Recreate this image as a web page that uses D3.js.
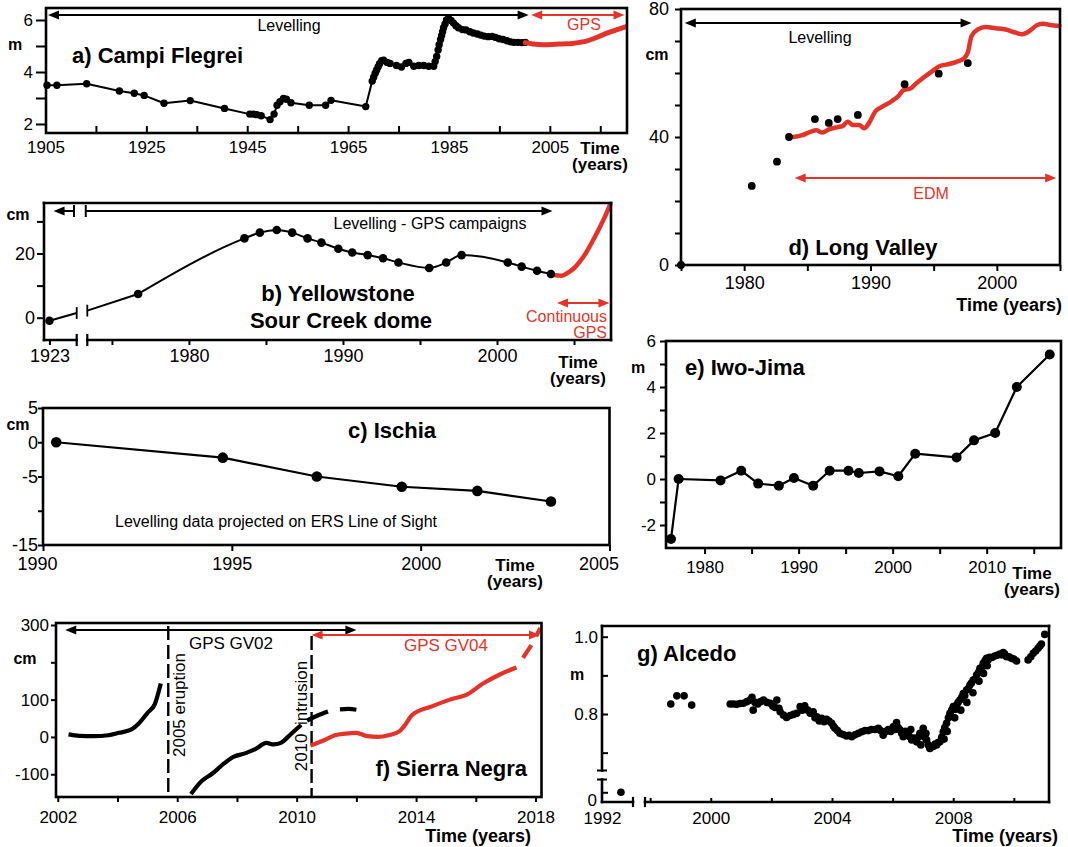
<!DOCTYPE html>
<html>
<head>
<meta charset="utf-8">
<title>Caldera ground deformation</title>
<script src="https://cdn.jsdelivr.net/npm/d3@7/dist/d3.min.js"></script>
<style>
  html, body { margin: 0; padding: 0; background: #ffffff; }
  svg { display: block; }
</style>
</head>
<body>
<svg id="fig" width="1068" height="847"></svg>
<script>
// ---------------- a) Campi Flegrei (year, m) ----------------
const campiLevelling = [
  [1905.30,3.49],[1907.26,3.49],[1913.16,3.55],[1919.65,3.27],[1922.60,3.18],[1924.56,3.10],
  [1928.49,2.80],[1933.70,2.90],[1940.49,2.60],[1945.50,2.38],[1946.19,2.38],[1946.88,2.36],
  [1947.76,2.32],[1949.53,2.17],[1950.32,2.38],[1950.91,2.72],[1951.49,2.86],[1952.18,2.98],
  [1952.77,2.95],[1953.66,2.82],[1957.30,2.72],[1960.54,2.72],[1961.62,2.91],[1968.50,2.67],
  [1969.78,3.65],[1970.07,3.80],[1970.37,3.95],[1970.66,4.08],[1970.96,4.20],[1971.25,4.32],
  [1971.65,4.43],[1972.04,4.45],[1972.73,4.37],[1973.32,4.33],[1974.59,4.25],[1975.58,4.19],
  [1976.46,4.33],[1977.05,4.37],[1978.03,4.22],[1979.02,4.25],[1980.00,4.25],[1980.98,4.22],
  [1981.97,4.22],[1982.26,4.40],[1982.56,4.60],[1982.85,4.85],[1983.05,5.05],[1983.34,5.25],
  [1983.54,5.40],[1983.74,5.55],[1983.93,5.70],[1984.23,5.85],[1984.52,6.00],[1984.92,6.06],
  [1985.41,5.98],[1985.90,5.88],[1986.39,5.78],[1986.88,5.70],[1987.67,5.63],[1988.36,5.62],
  [1989.14,5.55],[1989.83,5.50],[1990.62,5.46],[1991.31,5.42],[1991.99,5.38],[1992.78,5.36],
  [1993.57,5.37],[1994.25,5.33],[1994.94,5.28],[1995.73,5.25],[1996.51,5.20],[1997.20,5.16],
  [1997.89,5.14],[1998.68,5.14],[1999.46,5.13],[2000.15,5.14]
];
const campiGps = [
  [2000.15,5.13],[2001.63,5.08],[2003.59,5.05],[2005.56,5.06],[2007.52,5.08],[2009.49,5.10],
  [2010.96,5.14],[2012.44,5.20],[2013.91,5.30],[2015.39,5.42],[2016.86,5.53],[2018.34,5.63],[2020.0,5.74]
];
const campiXTicks = [1905,1915,1925,1935,1945,1955,1965,1975,1985,1995,2005,2015];
const campiXLabels = [1905,1925,1945,1965,1985,2005];
const campiYTicks = [2,3,4,5,6];
const campiYLabels = [2,4,6];
const campiSpans = { levelling: [1905.5, 2000.8], gps: [2001.3, 2019.8] };

// ---------------- b) Yellowstone, Sour Creek dome (year, cm) ----------------
const yellowEarly = [[1923, -0.94]];
const yellowBreakEnds = [[1925.0, 1.47], [1973.4, 2.19]];
const yellowCampaigns = [
  [1976.7,7.4],[1983.6,24.7],[1984.6,26.5],[1985.7,27.3],[1986.7,26.5],[1987.7,24.7],
  [1988.6,23.4],[1989.7,21.5],[1990.6,20.3],[1991.6,19.5],[1992.6,18.5],[1993.6,17.2],
  [1995.6,15.5],[1996.7,17.2],[1997.7,19.5],[2000.7,17.2],[2001.6,15.9],[2002.6,14.6],[2003.5,13.6]
];
const yellowGps = [
  [2003.5,13.6],[2003.8,13.2],[2004.2,13.1],[2004.6,14.0],[2005.0,15.4],[2005.4,17.6],
  [2005.8,20.4],[2006.2,23.8],[2006.6,27.5],[2007.0,31.4],[2007.35,35.3]
];
const yellowXTicks = [1975,1980,1985,1990,1995,2000,2005];
const yellowXLabels = [1980,1990,2000];
const yellowYTicks = [0,10,20,30];
const yellowYLabels = [0,20];
const yellowSpans = { early: [1923.3, 1924.8], campaigns: [1973.3, 2003.6], gps: [2003.9, 2007.3] };

// ---------------- c) Ischia (year, cm) ----------------
const ischiaLevelling = [
  [1990.35,0],[1994.76,-2.25],[1997.25,-5.0],[1999.5,-6.5],[2001.5,-7.1],[2003.45,-8.65]
];
const ischiaXTicks = [1990,1995,2000,2005];
const ischiaXLabels = [1990,1995,2000,2005];
const ischiaYTicks = [-15,-10,-5,0,5];
const ischiaYLabels = [-15,-5,0,5];

// ---------------- d) Long Valley (year, cm) ----------------
const longValleyLevelling = [
  [1975,0],[1980.6,24.7],[1982.6,32.3],[1983.55,40.0],[1985.6,45.6],[1986.7,44.4],
  [1987.4,45.6],[1989.0,46.9],[1992.7,56.5],[1995.4,59.8],[1997.7,63.1]
];
const longValleyEdm = [
  [1983.9,40.0],[1984.6,40.6],[1985.3,41.7],[1985.7,42.1],[1986.2,41.4],[1986.7,42.4],
  [1987.4,43.1],[1987.8,43.4],[1988.2,44.8],[1988.6,43.75],[1989.1,43.75],[1989.5,42.7],
  [1989.9,44.5],[1990.4,48.1],[1990.9,49.4],[1991.7,51.25],[1992.2,52.8],[1992.6,54.6],
  [1993.2,55.2],[1993.55,56.5],[1994.1,58.3],[1994.9,60.6],[1995.5,62.2],[1996.1,62.7],
  [1996.8,63.5],[1997.4,64.6],[1997.7,66.4],[1998.0,71.6],[1998.5,73.6],[1999.1,74.4],
  [1999.9,74.0],[2000.7,73.6],[2001.5,72.6],[2002.0,72.1],[2002.5,72.9],[2003.2,75.0],
  [2003.7,75.4],[2004.2,75.0],[2004.95,74.7]
];
const longValleyXTicks = [1975,1980,1985,1990,1995,2000,2005];
const longValleyXLabels = [1980,1990,2000];
const longValleyYTicks = [0,10,20,30,40,50,60,70,80];
const longValleyYLabels = [0,40,80];
const longValleySpans = { levelling: [1975.3, 1998.0], edm: [1984.0, 2004.7] };

// ---------------- e) Iwo-Jima (year, m) ----------------
const iwoJima = [
  [1976.43,-2.61],[1977.24,0],[1981.7,-0.06],[1983.9,0.36],[1985.7,-0.2],[1987.9,-0.29],
  [1989.5,0.04],[1991.55,-0.29],[1993.3,0.36],[1995.3,0.36],[1996.4,0.26],[1998.6,0.33],
  [2000.6,0.12],[2002.4,1.1],[2006.8,0.94],[2008.65,1.68],[2010.9,2.0],[2013.2,4.0],[2016.7,5.41]
];
const iwoXTicks = [1980,1985,1990,1995,2000,2005,2010,2015];
const iwoXLabels = [1980,1990,2000,2010];
const iwoYTicks = [-2,-1,0,1,2,3,4,5,6];
const iwoYLabels = [-2,0,2,4,6];

// ---------------- f) Sierra Negra (year, cm) ----------------
const sierraGV02Pre = [
  [2002.36,7],[2002.72,3],[2003.2,2],[2003.69,4.5],[2004.05,11],[2004.47,20],
  [2004.71,36],[2005.0,64],[2005.25,88],[2005.45,143]
];
const sierraGV02Post = [
  [2006.46,-153],[2006.82,-118],[2007.18,-98],[2007.54,-73],[2007.9,-53],[2008.27,-44],
  [2008.63,-32],[2008.99,-16],[2009.23,-20],[2009.47,-16],[2009.71,0],[2009.95,18],[2010.15,32]
];
const sierraGV02Late = [[2010.35,44],[2010.67,56],[2011.05,68]];
const sierraGV02End = [[2011.45,74],[2011.75,75],[2012.0,73]];
const sierraGV04 = [
  [2010.46,-23],[2010.92,-9],[2011.28,4.5],[2011.64,9],[2012.0,11],[2012.36,2],
  [2012.72,0],[2013.08,4.5],[2013.45,15.5],[2013.63,32],[2013.87,59],[2014.53,82],
  [2015.13,100],[2015.73,115],[2016.2,141],[2016.82,168],[2017.36,186]
];
const sierraGV04End = [[2017.58,212],[2017.86,246]];
const sierraGV04Tip = [[2018.02,270],[2018.16,292]];
const sierraEvents = [2005.7, 2010.5];
const sierraXTicks = [2002,2004,2006,2008,2010,2012,2014,2016,2018];
const sierraXLabels = [2002,2006,2010,2014,2018];
const sierraYTicks = [-100,0,100,200,300];
const sierraYLabels = [-100,0,100,300];
const sierraSpans = { gv02: [2002.25, 2012.0], gv04: [2010.5, 2018.15] };

// ---------------- g) Alcedo (year, m) ----------------
const alcedoEarly = [[1993.04, 0.02]];
const alcedoGps = [
  [1998.68,0.826],[1998.88,0.847],[1999.12,0.847],[1999.37,0.823],
  [2000.64,0.826],[2000.75,0.826],[2000.86,0.825],[2000.97,0.827],[2001.08,0.828],[2001.19,0.832],
  [2001.3,0.836],[2001.36,0.843],[2001.4,0.81],[2001.46,0.83],[2001.55,0.826],[2001.64,0.832],
  [2001.74,0.836],[2001.85,0.83],[2001.96,0.828],[2002.05,0.82],[2002.12,0.817],[2002.18,0.836],
  [2002.25,0.815],[2002.29,0.806],[2002.4,0.797],[2002.5,0.791],[2002.62,0.796],[2002.73,0.799],
  [2002.84,0.802],[2002.95,0.819],[2003.02,0.81],[2003.1,0.821],[2003.2,0.81],[2003.28,0.802],
  [2003.38,0.806],[2003.44,0.79],[2003.5,0.793],[2003.58,0.782],[2003.66,0.789],[2003.74,0.78],
  [2003.82,0.786],[2003.9,0.782],[2003.99,0.776],[2004.05,0.768],[2004.1,0.763],[2004.18,0.757],
  [2004.26,0.75],[2004.37,0.747],[2004.48,0.743],[2004.56,0.745],[2004.65,0.741],[2004.76,0.746],
  [2004.87,0.75],[2004.98,0.754],[2005.09,0.757],[2005.2,0.757],[2005.3,0.76],[2005.42,0.76],
  [2005.53,0.763],[2005.6,0.757],[2005.69,0.745],[2005.78,0.755],[2005.86,0.76],[2005.94,0.755],
  [2006.02,0.767],[2006.08,0.76],[2006.13,0.778],[2006.18,0.765],[2006.24,0.759],[2006.3,0.75],
  [2006.35,0.741],[2006.42,0.755],[2006.46,0.75],[2006.55,0.742],[2006.6,0.76],[2006.63,0.733],
  [2006.7,0.738],[2006.79,0.728],[2006.85,0.74],[2006.9,0.75],[2006.93,0.72],[2006.96,0.745],
  [2007.01,0.763],[2007.06,0.74],[2007.1,0.75],[2007.12,0.733],[2007.18,0.72],[2007.23,0.711],
  [2007.28,0.715],[2007.34,0.716],[2007.4,0.722],[2007.45,0.72],[2007.5,0.726],[2007.56,0.728],
  [2007.62,0.74],[2007.67,0.754],[2007.7,0.735],[2007.72,0.765],[2007.78,0.776],[2007.8,0.755],
  [2007.84,0.79],[2007.89,0.802],[2007.95,0.81],[2008.0,0.819],[2008.05,0.79],[2008.08,0.812],
  [2008.11,0.823],[2008.16,0.83],[2008.22,0.836],[2008.25,0.81],[2008.28,0.843],[2008.33,0.853],
  [2008.38,0.848],[2008.44,0.862],[2008.45,0.83],[2008.5,0.866],[2008.55,0.875],[2008.6,0.88],
  [2008.65,0.855],[2008.66,0.888],[2008.72,0.89],[2008.77,0.901],[2008.83,0.907],[2008.85,0.885],
  [2008.88,0.918],[2008.94,0.92],[2008.99,0.931],[2009.0,0.905],[2009.05,0.938],[2009.1,0.944],
  [2009.12,0.925],[2009.15,0.94],[2009.2,0.947],[2009.28,0.946],[2009.37,0.95],[2009.45,0.952],
  [2009.54,0.955],[2009.6,0.953],[2009.65,0.959],[2009.7,0.955],[2009.76,0.948],[2009.84,0.948],
  [2009.92,0.944],[2010.0,0.942],[2010.09,0.937],
  [2010.47,0.94],[2010.56,0.948],[2010.64,0.957],[2010.72,0.963],[2010.8,0.97],[2010.86,0.976],
  [2010.91,0.981],[2011.02,1.006]
];
const alcedoXTicks = [1998,2000,2002,2004,2006,2008,2010];
const alcedoXLabels = [2000,2004,2008];
const alcedoYTicks = [0.7,0.8,0.9,1.0];
const alcedoYLabels = [0.8,1.0];

// ---------------- drawing ----------------
const svg = d3.select('#fig');
const RED = '#e4342a';
const FONT = '"Liberation Sans", Arial, Helvetica, sans-serif';

function seg(x1, y1, x2, y2, color = '#000', w = 2.6) {
  return svg.append('line').attr('x1', x1).attr('y1', y1).attr('x2', x2).attr('y2', y2)
    .attr('stroke', color).attr('stroke-width', w).attr('stroke-linecap', 'square');
}
function frame(p) {
  svg.append('rect').attr('x', p.x0).attr('y', p.y0)
    .attr('width', p.x1 - p.x0).attr('height', p.y1 - p.y0)
    .attr('fill', 'none').attr('stroke', '#000').attr('stroke-width', 2.6);
}
function label(x, y, s, o = {}) {
  const t = svg.append('text').attr('x', x).attr('y', y).text(s)
    .attr('font-family', FONT).attr('font-size', o.size || 16)
    .attr('font-weight', o.bold ? 'bold' : 'normal')
    .attr('fill', o.color || '#000').attr('text-anchor', o.anchor || 'start');
  if (o.rotate) t.attr('transform', `rotate(${o.rotate},${x},${y})`);
  return t;
}
function styleAxis(g, size) {
  g.select('.domain').remove();
  g.selectAll('.tick line').attr('stroke', '#000').attr('stroke-width', 2);
  g.selectAll('.tick text').attr('fill', '#000').attr('font-size', size).attr('font-family', FONT);
}
const plain = v => String(v);
function leftAxis(scale, x, ticks, labels, size, o = {}) {
  const f = o.fmt || plain;
  const g = svg.append('g').attr('transform', `translate(${x},0)`)
    .call(d3.axisLeft(scale).tickValues(ticks).tickSize(o.tick ?? 5).tickPadding(o.pad ?? 2)
      .tickFormat(v => labels.includes(v) ? f(v) : ''));
  styleAxis(g, size);
  return g;
}
function bottomAxis(scale, y, ticks, labels, size, o = {}) {
  const g = svg.append('g').attr('transform', `translate(0,${y})`)
    .call(d3.axisBottom(scale).tickValues(ticks).tickSize(o.tick ?? 5).tickPadding(o.pad ?? 3)
      .tickFormat(v => labels.includes(v) ? plain(v) : ''));
  styleAxis(g, size);
  return g;
}
function trace(data, xs, ys, color, w, o = {}) {
  const p = svg.append('path').datum(data)
    .attr('d', d3.line().x(d => xs(d[0])).y(d => ys(d[1])).curve(o.curve || d3.curveLinear))
    .attr('fill', 'none').attr('stroke', color).attr('stroke-width', w)
    .attr('stroke-linejoin', 'round').attr('stroke-linecap', o.cap || 'round');
  if (o.dash) p.attr('stroke-dasharray', o.dash);
  return p;
}
function dots(data, xs, ys, r, color = '#000') {
  svg.append('g').selectAll('circle').data(data).join('circle')
    .attr('cx', d => xs(d[0])).attr('cy', d => ys(d[1])).attr('r', r).attr('fill', color);
}
function arrow(x1, x2, y, color, o = {}) {
  const L = 11, W = 4.5;
  const left = o.left !== false, right = o.right !== false;
  svg.append('line').attr('x1', left ? x1 + L - 1 : x1).attr('x2', right ? x2 - L + 1 : x2)
    .attr('y1', y).attr('y2', y).attr('stroke', color).attr('stroke-width', 2);
  if (left) svg.append('path').attr('d', `M${x1},${y}L${x1 + L},${y - W}L${x1 + L},${y + W}Z`).attr('fill', color);
  if (right) svg.append('path').attr('d', `M${x2},${y}L${x2 - L},${y - W}L${x2 - L},${y + W}Z`).attr('fill', color);
  if (o.barLeft) seg(x1, y - 5, x1, y + 5, color, 2);
  if (o.barRight) seg(x2, y - 5, x2, y + 5, color, 2);
}
function timeYears(x, y, size) {
  label(x, y, 'Time', { bold: true, size, anchor: 'middle' });
  label(x, y + 16, '(years)', { bold: true, size, anchor: 'middle' });
}

// ===== a) Campi Flegrei =====
const A = { x0: 46, x1: 627, y0: 8, y1: 133 };
const ax = d3.scaleLinear([1905.1, 2020.3], [A.x0, A.x1]);
const ay = d3.scaleLinear([2, 6], [124, 20]);
leftAxis(ay, A.x0, campiYTicks, campiYLabels, 17, { tick: 10, pad: 3 });
bottomAxis(ax, A.y1, campiXTicks, campiXLabels, 17, { tick: -7, pad: 8 });
trace(campiLevelling, ax, ay, '#000', 2);
dots(campiLevelling, ax, ay, 3.7);
trace(campiGps, ax, ay, RED, 5, { curve: d3.curveMonotoneX });
frame(A);
arrow(ax(campiSpans.levelling[0]), ax(campiSpans.levelling[1]), 15, '#000');
arrow(ax(campiSpans.gps[0]), ax(campiSpans.gps[1]), 15, RED);
label(289, 31, 'Levelling', { size: 16, anchor: 'middle' });
label(584, 30, 'GPS', { size: 16, anchor: 'middle', color: RED });
label(72, 63, 'a) Campi Flegrei', { bold: true, size: 22 });
label(15, 50, 'm', { bold: true, size: 16, anchor: 'middle' });
timeYears(600, 154, 17);

// ===== b) Yellowstone =====
const B = { x0: 44, x1: 611, y0: 203, y1: 340, bk0: 76.7, bk1: 87.3 };
const bx = d3.scaleLinear([1973.4, 2007.4], [B.bk1, B.x1]);
const bxEarly = d3.scaleLinear([1922.6, 1925.0], [B.x0, B.bk0]);
const by = d3.scaleLinear([0, 20], [317.7, 253.5]);
leftAxis(by, B.x0, yellowYTicks, yellowYLabels, 18, { tick: 7, pad: 2 });
bottomAxis(bx, B.y1, yellowXTicks, yellowXLabels, 18, { tick: 5, pad: 4 });
bottomAxis(bxEarly, B.y1, [1923], [1923], 18, { tick: 5, pad: 4 });
// campaign line interrupted by the break in the time axis
svg.append('line').attr('x1', bxEarly(yellowEarly[0][0])).attr('y1', by(yellowEarly[0][1]))
  .attr('x2', bxEarly(yellowBreakEnds[0][0])).attr('y2', by(yellowBreakEnds[0][1]))
  .attr('stroke', '#000').attr('stroke-width', 2);
svg.append('line').attr('x1', bx(yellowBreakEnds[1][0])).attr('y1', by(yellowBreakEnds[1][1]))
  .attr('x2', bx(yellowCampaigns[0][0])).attr('y2', by(yellowCampaigns[0][1]))
  .attr('stroke', '#000').attr('stroke-width', 2);
seg(bxEarly(yellowBreakEnds[0][0]), by(yellowBreakEnds[0][1]) - 5, bxEarly(yellowBreakEnds[0][0]), by(yellowBreakEnds[0][1]) + 5, '#000', 1.8);
seg(bx(yellowBreakEnds[1][0]), by(yellowBreakEnds[1][1]) - 5, bx(yellowBreakEnds[1][0]), by(yellowBreakEnds[1][1]) + 5, '#000', 1.8);
trace(yellowCampaigns, bx, by, '#000', 2, { curve: d3.curveMonotoneX });
trace(yellowGps, bx, by, RED, 4.5, { curve: d3.curveMonotoneX });
dots(yellowEarly, bxEarly, by, 4.3);
dots(yellowCampaigns, bx, by, 4.3);
seg(B.x0, B.y0, B.x1, B.y0); seg(B.x1, B.y0, B.x1, B.y1); seg(B.x0, B.y0, B.x0, B.y1);
seg(B.x0, B.y1, B.bk0, B.y1); seg(B.bk1, B.y1, B.x1, B.y1);
seg(B.bk0, B.y1 - 5, B.bk0, B.y1 + 5, '#000', 2.2); seg(B.bk1, B.y1 - 5, B.bk1, B.y1 + 5, '#000', 2.2);
arrow(bxEarly(yellowSpans.early[0]), bxEarly(yellowSpans.early[1]), 211, '#000', { right: false, barRight: true });
arrow(bx(yellowSpans.campaigns[0]), bx(yellowSpans.campaigns[1]), 211, '#000', { left: false, barLeft: true });
arrow(bx(yellowSpans.gps[0]), bx(yellowSpans.gps[1]), 303, RED);
label(430, 229, 'Levelling - GPS campaigns', { size: 16, anchor: 'middle' });
label(607, 322, 'Continuous', { size: 16, anchor: 'end', color: RED });
label(607, 338, 'GPS', { size: 16, anchor: 'end', color: RED });
label(338, 301, 'b) Yellowstone', { bold: true, size: 22, anchor: 'middle' });
label(341, 328, 'Sour Creek dome', { bold: true, size: 22, anchor: 'middle' });
label(18, 220, 'cm', { bold: true, size: 16, anchor: 'middle' });
timeYears(578, 368, 17);

// ===== c) Ischia =====
const C = { x0: 43, x1: 609.5, y0: 408, y1: 545 };
const cx = d3.scaleLinear([1990, 2005], [C.x0, C.x1]);
const cy = d3.scaleLinear([-15, 5], [C.y1, C.y0]);
leftAxis(cy, C.x0, ischiaYTicks, ischiaYLabels, 18, { tick: 5, pad: 0 });
const cAxis = bottomAxis(cx, C.y1, ischiaXTicks, ischiaXLabels, 18, { tick: 6, pad: 6 });
// end labels sit slightly inside the frame corners
cAxis.selectAll('.tick text').filter(v => v === 1990).attr('dx', -6);
cAxis.selectAll('.tick text').filter(v => v === 2005).attr('dx', -11);
trace(ischiaLevelling, cx, cy, '#000', 2.2);
dots(ischiaLevelling, cx, cy, 5.3);
frame(C);
label(348, 438, 'c) Ischia', { bold: true, size: 22 });
label(115, 527, 'Levelling data projected on ERS Line of Sight', { size: 16 });
label(18, 430, 'cm', { bold: true, size: 16, anchor: 'middle' });
timeYears(515, 571, 17);

// ===== d) Long Valley =====
const D = { x0: 681, x1: 1060, y0: 9, y1: 265 };
const dx = d3.scaleLinear([1975, 2005], [D.x0, D.x1]);
const dy = d3.scaleLinear([0, 80], [D.y1, D.y0]);
leftAxis(dy, D.x0, longValleyYTicks, longValleyYLabels, 18, { tick: 6, pad: 6 });
bottomAxis(dx, D.y1, longValleyXTicks, longValleyXLabels, 18, { tick: 6, pad: 5 });
trace(longValleyEdm, dx, dy, RED, 4.5, { curve: d3.curveMonotoneX });
frame(D);
dots(longValleyLevelling, dx, dy, 3.9);
arrow(dx(longValleySpans.levelling[0]), dx(longValleySpans.levelling[1]), 23, '#000');
arrow(dx(longValleySpans.edm[0]), dx(longValleySpans.edm[1]), 178, RED);
label(820, 43, 'Levelling', { size: 16, anchor: 'middle' });
label(931, 199, 'EDM', { size: 16, anchor: 'middle', color: RED });
label(863, 255, 'd) Long Valley', { bold: true, size: 22, anchor: 'middle' });
label(657, 60, 'cm', { bold: true, size: 16, anchor: 'middle' });
label(1062, 311, 'Time (years)', { bold: true, size: 18, anchor: 'end' });

// ===== e) Iwo-Jima =====
const E = { x0: 666, x1: 1061, y0: 341, y1: 548 };
const ex = d3.scaleLinear([1975.9, 2017.9], [E.x0, E.x1]);
const ey = d3.scaleLinear([-3, 6], [E.y1, E.y0]);
leftAxis(ey, E.x0, iwoYTicks, iwoYLabels, 17, { tick: 6, pad: 4 });
bottomAxis(ex, E.y1, iwoXTicks, iwoXLabels, 17, { tick: 6, pad: 7 });
trace(iwoJima, ex, ey, '#000', 2.2);
dots(iwoJima, ex, ey, 5);
frame(E);
label(685, 375, 'e) Iwo-Jima', { bold: true, size: 22 });
label(638, 373, 'm', { bold: true, size: 16, anchor: 'middle' });
timeYears(1032, 579, 17);

// ===== f) Sierra Negra =====
const F = { x0: 56, x1: 541.5, y0: 623, y1: 797 };
const fx = d3.scaleLinear([2001.94, 2018.2], [F.x0, F.x1]);
const fy = d3.scaleLinear([-161, 305.4], [F.y1, F.y0]);
leftAxis(fy, F.x0, sierraYTicks, sierraYLabels, 17, { tick: 5, pad: 2 });
bottomAxis(fx, F.y1, sierraXTicks, sierraXLabels, 17, { tick: 5, pad: 9 });
sierraEvents.forEach((yr, i) => {
  svg.append('line').attr('x1', fx(yr)).attr('x2', fx(yr))
    .attr('y1', i === 0 ? 626 : 636).attr('y2', F.y1)
    .attr('stroke', '#000').attr('stroke-width', 2.4).attr('stroke-dasharray', '14,5');
});
svg.append('clipPath').attr('id', 'fclip').append('rect')
  .attr('x', F.x0).attr('y', F.y0).attr('width', F.x1 - F.x0).attr('height', F.y1 - F.y0);
[sierraGV02Pre, sierraGV02Post, sierraGV02Late, sierraGV02End].forEach(s =>
  trace(s, fx, fy, '#000', 4.2, { curve: d3.curveMonotoneX, cap: 'butt' }).attr('clip-path', 'url(#fclip)'));
[sierraGV04, sierraGV04End, sierraGV04Tip].forEach(s =>
  trace(s, fx, fy, RED, 4.2, { curve: d3.curveMonotoneX, cap: 'butt' }).attr('clip-path', 'url(#fclip)'));
frame(F);
arrow(fx(sierraSpans.gv02[0]), fx(sierraSpans.gv02[1]), 630, '#000');
arrow(fx(sierraSpans.gv04[0]), fx(sierraSpans.gv04[1]), 635, RED);
label(231, 649, 'GPS GV02', { size: 17, anchor: 'middle' });
label(446, 651, 'GPS GV04', { size: 17, anchor: 'middle', color: RED });
label(179, 705, '2005 eruption', { size: 17, anchor: 'middle', rotate: -90 }).attr('dy', '0.35em');
label(301, 716, '2010\u2002intrusion', { size: 17, anchor: 'middle', rotate: -90 }).attr('dy', '0.35em');
label(527, 776, 'f) Sierra Negra', { bold: true, size: 22, anchor: 'end' });
label(25, 664, 'cm', { bold: true, size: 16, anchor: 'middle' });
label(531, 842, 'Time (years)', { bold: true, size: 18, anchor: 'end' });

// ===== g) Alcedo =====
const G = { x0: 602, x1: 1049, y0: 626, y1: 802, bx0: 633, bx1: 645, by0: 770.5, by1: 779.5 };
const gx = d3.scaleLinear([1997.83, 2011.16], [G.bx1, G.x1]);
const gxEarly = d3.scaleLinear([1992, 1993.7], [G.x0, G.bx0]);
const gy = d3.scaleLinear([0.8, 1.0], [714, 636.7]);
const gyLow = d3.scaleLinear([0, 0.05], [800, 780.7]);
leftAxis(gy, G.x0, alcedoYTicks, alcedoYLabels, 17, { tick: -6, pad: 4, fmt: d3.format('.1f') });
leftAxis(gyLow, G.x0, [0.02], [], 17, { tick: -6, pad: 4 });
label(597, 806, '0', { size: 17, anchor: 'end' });
bottomAxis(gx, G.y1, alcedoXTicks, alcedoXLabels, 17, { tick: -4, pad: 10 });
bottomAxis(gxEarly, G.y1, [1992], [1992], 17, { tick: 0, pad: 10 });
dots(alcedoEarly, gxEarly, gyLow, 3.8);
dots(alcedoGps, gx, gy, 3.8);
seg(G.x0, G.y0, G.x1, G.y0); seg(G.x1, G.y0, G.x1, G.y1);
seg(G.x0, G.y0, G.x0, G.by0); seg(G.x0, G.by1, G.x0, G.y1);
seg(G.x0 - 4, G.by0, G.x0 + 4, G.by0, '#000', 2); seg(G.x0 - 4, G.by1, G.x0 + 4, G.by1, '#000', 2);
seg(G.x0, G.y1, G.bx0, G.y1); seg(G.bx1, G.y1, G.x1, G.y1);
seg(G.bx0, G.y1 - 4, G.bx0, G.y1 + 4, '#000', 2.2); seg(G.bx1, G.y1 - 4, G.bx1, G.y1 + 4, '#000', 2.2);
label(637, 661, 'g) Alcedo', { bold: true, size: 22 });
label(577, 680, 'm', { bold: true, size: 16, anchor: 'middle' });
label(1058, 842, 'Time (years)', { bold: true, size: 18, anchor: 'end' });
</script>
</body>
</html>
